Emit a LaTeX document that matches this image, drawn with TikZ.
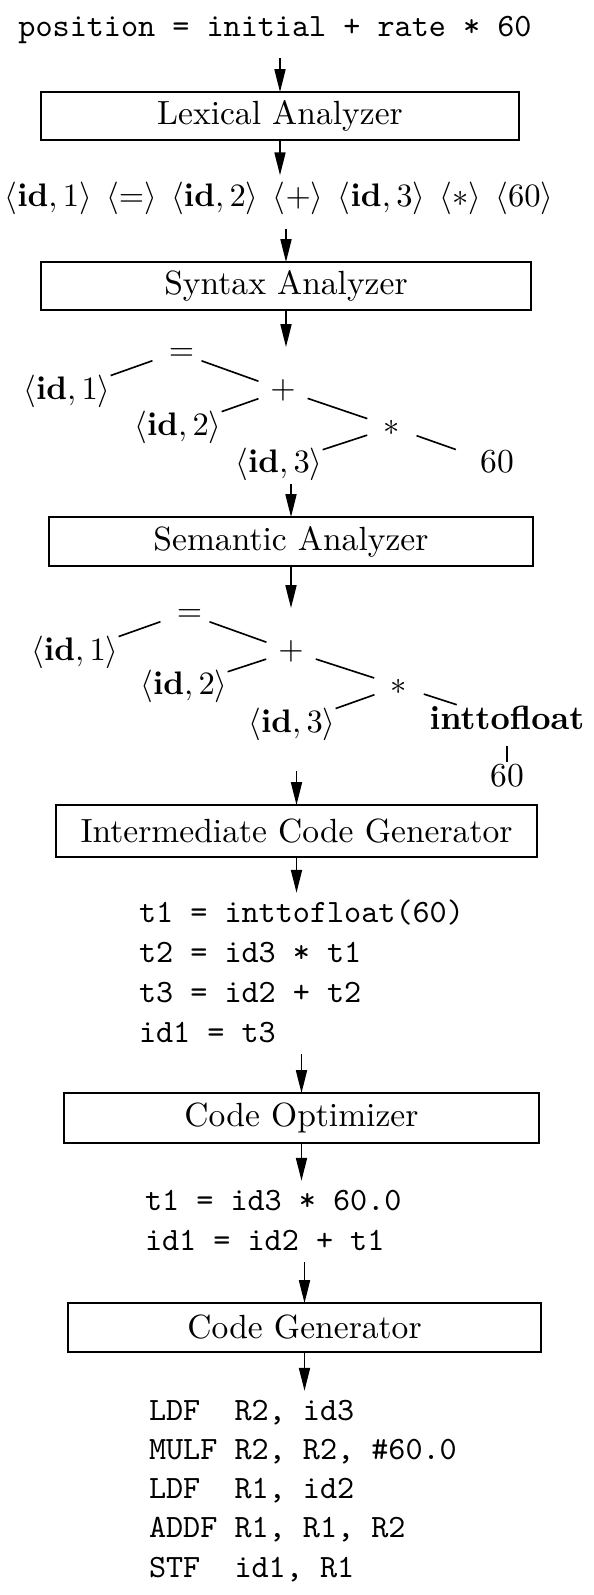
\documentclass[tikz,border=0pt]{standalone}
\usetikzlibrary{arrows.meta}
\newcommand{\rmsize}{\fontsize{10.3}{12.4}\selectfont}
\newcommand{\ttsize}{\fontsize{10}{12}\selectfont\ttfamily}
\newcommand{\ph}{\vphantom{\langle}}
\newcommand{\tgap}{\hspace{4.4pt}}
\begin{document}
\begin{tikzpicture}[x=0.307pt, y=-0.307pt,
  every node/.style={inner sep=0pt, outer sep=0pt},
  stagebox/.style={draw, line width=0.45pt, font=\rmsize, inner sep=0pt},
  opnode/.style={circle, minimum size=16pt, font=\rmsize},
  leaf/.style={font=\rmsize},
  codeline/.style={anchor=base west, font=\ttsize, text height=7.5pt, text depth=2.2pt, inner ysep=1.5pt, inner xsep=0pt},
  arr/.style={-{Triangle[length=7pt,width=3.4pt]}, line width=0.45pt},
  treeedge/.style={line width=0.5pt}]
\fill[white] (0,0) rectangle (594,1595);
\useasboundingbox (0,0) rectangle (594,1595);

% source
\node[anchor=base, font=\ttsize] (src) at (275,36) {position = initial + rate * 60};
\node[stagebox, minimum width={478*0.307pt}, minimum height={48*0.307pt}] (lex) at (280,116) {Lexical Analyzer};
\node[font=\rmsize, inner sep=2pt] (tok) at (279,198) {$\langle\mathbf{id},1\rangle\tgap\langle=\rangle\tgap\langle\mathbf{id},2\rangle\tgap\langle+\rangle\tgap\langle\mathbf{id},3\rangle\tgap\langle*\rangle\tgap\langle60\rangle$};
\node[stagebox, minimum width={490*0.307pt}, minimum height={48*0.307pt}] (syn) at (286,286) {Syntax Analyzer};
\coordinate (syntip) at (286,347);

% syntax tree
\node[opnode] (eq) at (177,352) {$\ph=$};
\node[leaf] (id1) at (67,391) {$\langle\mathbf{id},1\rangle$};
\node[opnode] (plus) at (283,390) {$\ph+$};
\node[leaf] (id2) at (178,427) {$\langle\mathbf{id},2\rangle$};
\node[opnode] (ast) at (392,427) {$\ph*$};
\node[leaf] (id3) at (279,464) {$\langle\mathbf{id},3\rangle$};
\node[leaf, inner xsep=7.5pt] (sixty) at (497,464) {$\ph$60};
\draw[treeedge] (eq) -- (id1);
\draw[treeedge] (eq) -- (plus);
\draw[treeedge] (plus) -- (id2);
\draw[treeedge] (plus) -- (ast);
\draw[treeedge] (ast) -- (id3);
\draw[treeedge] (ast) -- (sixty);

\node[stagebox, minimum width={484*0.307pt}, minimum height={49*0.307pt}] (sem) at (291,541.5) {Semantic Analyzer};
\coordinate (semtip) at (291,608);

% semantic tree
\node[opnode] (eqb) at (185,613) {$\ph=$};
\node[leaf] (id1b) at (75,652) {$\langle\mathbf{id},1\rangle$};
\node[opnode] (plusb) at (291,651) {$\ph+$};
\node[leaf] (id2b) at (184,686) {$\langle\mathbf{id},2\rangle$};
\node[opnode] (astb) at (399,686) {$\ph*$};
\node[leaf] (id3b) at (292,724) {$\langle\mathbf{id},3\rangle$};
\node[leaf] (itf) at (507,721) {$\ph$\textbf{inttofloat}};
\node[leaf] (sixtyb) at (507,778) {$\ph$60};
\draw[treeedge] (eqb) -- (id1b);
\draw[treeedge] (eqb) -- (plusb);
\draw[treeedge] (plusb) -- (id2b);
\draw[treeedge] (plusb) -- (astb);
\draw[treeedge] (astb) -- (id3b);
\draw[treeedge] (astb) -- (itf);
\draw[treeedge, shorten <=2.8pt] (itf.south -| sixtyb.north) -- (sixtyb.north);

\node[stagebox, minimum width={481*0.307pt}, minimum height={52*0.307pt}] (icg) at (296.5,831) {Intermediate Code Generator};

% intermediate code
\node[codeline] (ca) at (139,922) {t1 = inttofloat(60)};
\node[codeline] (cb) at (139,962) {t2 = id3 * t1};
\node[codeline] (cc) at (139,1002) {t3 = id2 + t2};
\node[codeline] (cd) at (139,1042) {id1 = t3};

\node[stagebox, minimum width={475*0.307pt}, minimum height={50*0.307pt}] (opt) at (301.5,1118) {Code Optimizer};

% optimized code
\node[codeline] (oa) at (145,1210) {t1 = id3 * 60.0};
\node[codeline] (ob) at (145,1250) {id1 = id2 + t1};

\node[stagebox, minimum width={473*0.307pt}, minimum height={49*0.307pt}] (cg) at (304.5,1327.5) {Code Generator};

% target code
\node[codeline] (ta) at (149,1420) {LDF\ \ R2, id3};
\node[codeline] (tb) at (149,1459.3) {MULF R2, R2, \#60.0};
\node[codeline] (tc) at (149,1498.6) {LDF\ \ R1, id2};
\node[codeline] (td) at (149,1537.9) {ADDF R1, R1, R2};
\node[codeline] (te) at (149,1577.2) {STF\ \ id1, R1};

% arrows
\draw[arr, shorten <=4.6pt] (src.south -| lex.north) -- (lex.north);
\draw[arr] (lex.south) -- (tok.north -| lex.south);
\draw[arr, shorten <=2.5pt] (tok.south -| syn.north) -- (syn.north);
\draw[arr] (syn.south) -- (syntip);
\draw[arr, shorten <=1pt] (id3.south -| sem.north) -- (sem.north);
\draw[arr] (sem.south) -- (semtip);
\draw[arr, shorten <=9.5pt] (id3b.south -| icg.north) -- (icg.north);
\draw[arr] (icg.south) -- (ca.north -| icg.south);
\draw[arr] (cd.south -| opt.north) -- (opt.north);
\draw[arr] (opt.south) -- (oa.north -| opt.south);
\draw[arr] (ob.south -| cg.north) -- (cg.north);
\draw[arr] (cg.south) -- (ta.north -| cg.south);
\end{tikzpicture}
\end{document}
